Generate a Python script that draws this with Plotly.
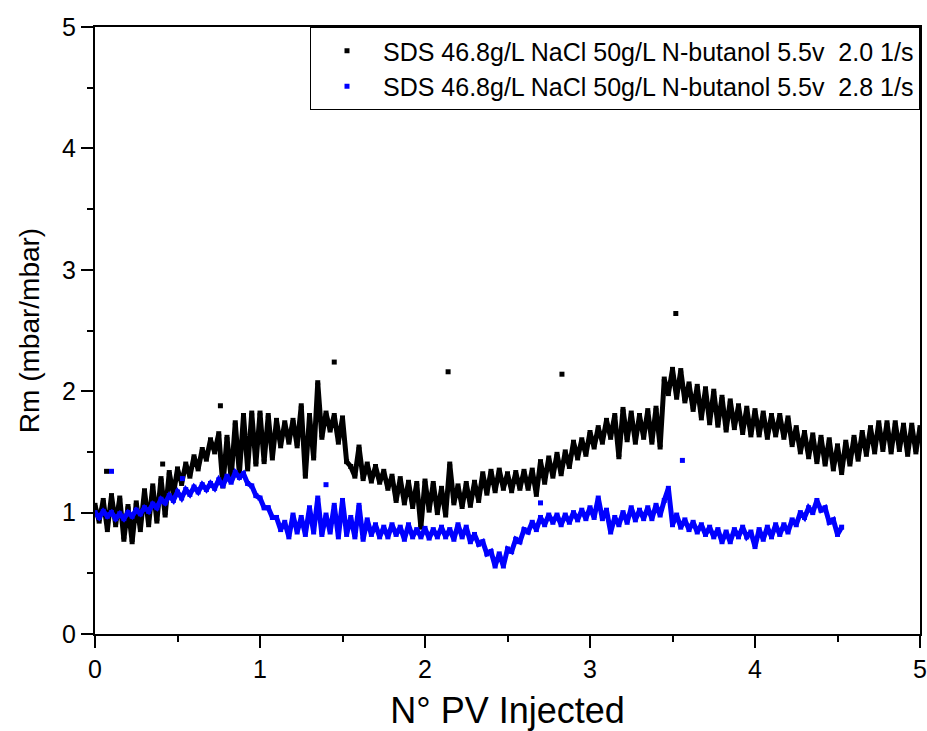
import plotly.graph_objects as go

# sampled at every 0.025 PV injected
black_x = [
    0.000, 0.025, 0.050, 0.075, 0.100, 0.125, 0.150, 0.175, 0.200, 0.225,
    0.250, 0.275, 0.300, 0.325, 0.350, 0.375, 0.400, 0.425, 0.450, 0.475,
    0.500, 0.525, 0.550, 0.575, 0.600, 0.625, 0.650, 0.675, 0.700, 0.725,
    0.750, 0.775, 0.800, 0.825, 0.850, 0.875, 0.900, 0.925, 0.950, 0.975,
    1.000, 1.025, 1.050, 1.075, 1.100, 1.125, 1.150, 1.175, 1.200, 1.225,
    1.250, 1.275, 1.300, 1.325, 1.350, 1.375, 1.400, 1.425, 1.450, 1.475,
    1.500, 1.525, 1.550, 1.575, 1.600, 1.625, 1.650, 1.675, 1.700, 1.725,
    1.750, 1.775, 1.800, 1.825, 1.850, 1.875, 1.900, 1.925, 1.950, 1.975,
    2.000, 2.025, 2.050, 2.075, 2.100, 2.125, 2.150, 2.175, 2.200, 2.225,
    2.250, 2.275, 2.300, 2.325, 2.350, 2.375, 2.400, 2.425, 2.450, 2.475,
    2.500, 2.525, 2.550, 2.575, 2.600, 2.625, 2.650, 2.675, 2.700, 2.725,
    2.750, 2.775, 2.800, 2.825, 2.850, 2.875, 2.900, 2.925, 2.950, 2.975,
    3.000, 3.025, 3.050, 3.075, 3.100, 3.125, 3.150, 3.175, 3.200, 3.225,
    3.250, 3.275, 3.300, 3.325, 3.350, 3.375, 3.400, 3.425, 3.450, 3.475,
    3.500, 3.525, 3.550, 3.575, 3.600, 3.625, 3.650, 3.675, 3.700, 3.725,
    3.750, 3.775, 3.800, 3.825, 3.850, 3.875, 3.900, 3.925, 3.950, 3.975,
    4.000, 4.025, 4.050, 4.075, 4.100, 4.125, 4.150, 4.175, 4.200, 4.225,
    4.250, 4.275, 4.300, 4.325, 4.350, 4.375, 4.400, 4.425, 4.450, 4.475,
    4.500, 4.525, 4.550, 4.575, 4.600, 4.625, 4.650, 4.675, 4.700, 4.725,
    4.750, 4.775, 4.800, 4.825, 4.850, 4.875, 4.900, 4.925, 4.950, 4.975,
    5.000,
]
black_rm = [
    1.06, 0.93, 1.10, 0.86, 1.14, 0.90, 1.12, 0.78, 1.05, 0.76,
    1.08, 0.86, 1.18, 0.90, 1.22, 0.93, 1.28, 0.98, 1.33, 1.15,
    1.36, 1.24, 1.40, 1.30, 1.46, 1.36, 1.52, 1.44, 1.60, 1.50,
    1.65, 1.22, 1.62, 1.28, 1.74, 1.32, 1.80, 1.36, 1.82, 1.40,
    1.82, 1.42, 1.80, 1.45, 1.76, 1.55, 1.74, 1.58, 1.76, 1.55,
    1.88, 1.30, 1.80, 1.45, 2.07, 1.62, 1.82, 1.68, 1.80, 1.58,
    1.78, 1.42, 1.38, 1.30, 1.54, 1.28, 1.40, 1.26, 1.38, 1.25,
    1.34, 1.20, 1.30, 1.10, 1.28, 1.08, 1.25, 1.05, 1.24, 0.88,
    1.26, 1.02, 1.24, 1.00, 1.20, 0.98, 1.40, 1.08, 1.22, 1.05,
    1.24, 1.06, 1.25, 1.10, 1.32, 1.16, 1.34, 1.18, 1.35, 1.20,
    1.32, 1.18, 1.33, 1.20, 1.34, 1.20, 1.35, 1.15, 1.42, 1.25,
    1.45, 1.30, 1.48, 1.32, 1.50, 1.38, 1.58, 1.45, 1.60, 1.48,
    1.66, 1.54, 1.70, 1.58, 1.76, 1.62, 1.80, 1.46, 1.85, 1.60,
    1.82, 1.58, 1.80, 1.62, 1.84, 1.58, 1.86, 1.54, 2.10, 1.98,
    2.18, 1.95, 2.17, 1.92, 2.06, 1.85, 2.04, 1.78, 2.02, 1.74,
    2.00, 1.72, 1.95, 1.68, 1.92, 1.70, 1.88, 1.66, 1.86, 1.64,
    1.84, 1.64, 1.82, 1.62, 1.80, 1.64, 1.80, 1.62, 1.78, 1.56,
    1.70, 1.50, 1.66, 1.46, 1.64, 1.42, 1.62, 1.40, 1.60, 1.36,
    1.55, 1.33, 1.58, 1.40, 1.62, 1.44, 1.66, 1.48, 1.70, 1.50,
    1.74, 1.52, 1.74, 1.50, 1.74, 1.52, 1.72, 1.48, 1.72, 1.50,
    1.70,
]
black_out_x = [0.07, 0.41, 0.76, 1.45, 2.14, 2.83, 3.52]
black_out_rm = [1.34, 1.40, 1.88, 2.24, 2.16, 2.14, 2.64]

blue_x = [
    0.000, 0.025, 0.050, 0.075, 0.100, 0.125, 0.150, 0.175, 0.200, 0.225,
    0.250, 0.275, 0.300, 0.325, 0.350, 0.375, 0.400, 0.425, 0.450, 0.475,
    0.500, 0.525, 0.550, 0.575, 0.600, 0.625, 0.650, 0.675, 0.700, 0.725,
    0.750, 0.775, 0.800, 0.825, 0.850, 0.875, 0.900, 0.925, 0.950, 0.975,
    1.000, 1.025, 1.050, 1.075, 1.100, 1.125, 1.150, 1.175, 1.200, 1.225,
    1.250, 1.275, 1.300, 1.325, 1.350, 1.375, 1.400, 1.425, 1.450, 1.475,
    1.500, 1.525, 1.550, 1.575, 1.600, 1.625, 1.650, 1.675, 1.700, 1.725,
    1.750, 1.775, 1.800, 1.825, 1.850, 1.875, 1.900, 1.925, 1.950, 1.975,
    2.000, 2.025, 2.050, 2.075, 2.100, 2.125, 2.150, 2.175, 2.200, 2.225,
    2.250, 2.275, 2.300, 2.325, 2.350, 2.375, 2.400, 2.425, 2.450, 2.475,
    2.500, 2.525, 2.550, 2.575, 2.600, 2.625, 2.650, 2.675, 2.700, 2.725,
    2.750, 2.775, 2.800, 2.825, 2.850, 2.875, 2.900, 2.925, 2.950, 2.975,
    3.000, 3.025, 3.050, 3.075, 3.100, 3.125, 3.150, 3.175, 3.200, 3.225,
    3.250, 3.275, 3.300, 3.325, 3.350, 3.375, 3.400, 3.425, 3.450, 3.475,
    3.500, 3.525, 3.550, 3.575, 3.600, 3.625, 3.650, 3.675, 3.700, 3.725,
    3.750, 3.775, 3.800, 3.825, 3.850, 3.875, 3.900, 3.925, 3.950, 3.975,
    4.000, 4.025, 4.050, 4.075, 4.100, 4.125, 4.150, 4.175, 4.200, 4.225,
    4.250, 4.275, 4.300, 4.325, 4.350, 4.375, 4.400, 4.425, 4.450, 4.475,
    4.500, 4.525,
]
blue_rm = [
    1.00, 0.96, 1.01, 0.97, 1.00, 0.95, 0.99, 0.95, 1.00, 0.97,
    1.02, 0.99, 1.04, 1.01, 1.07, 1.04, 1.11, 1.08, 1.14, 1.10,
    1.17, 1.12, 1.19, 1.15, 1.21, 1.17, 1.23, 1.19, 1.24, 1.20,
    1.27, 1.22, 1.30, 1.25, 1.33, 1.29, 1.32, 1.24, 1.22, 1.14,
    1.12, 1.04, 1.04, 0.96, 0.96, 0.86, 0.92, 0.80, 0.98, 0.84,
    0.96, 0.82, 1.04, 0.84, 1.12, 0.82, 0.98, 0.84, 1.06, 0.80,
    1.10, 0.82, 0.96, 0.80, 1.06, 0.78, 0.94, 0.82, 0.90, 0.80,
    0.88, 0.80, 0.90, 0.82, 0.88, 0.78, 0.90, 0.80, 0.86, 0.80,
    0.87, 0.79, 0.86, 0.80, 0.88, 0.80, 0.86, 0.78, 0.90, 0.80,
    0.88, 0.76, 0.82, 0.74, 0.76, 0.66, 0.68, 0.56, 0.66, 0.56,
    0.70, 0.68, 0.78, 0.76, 0.86, 0.84, 0.92, 0.86, 0.96, 0.90,
    0.98, 0.92, 0.98, 0.90, 0.98, 0.92, 1.00, 0.94, 1.02, 0.95,
    1.04, 0.96, 1.12, 0.95, 1.02, 0.84, 0.96, 0.90, 1.00, 0.92,
    1.04, 0.94, 1.02, 0.95, 1.04, 0.95, 1.06, 0.98, 1.10, 1.20,
    0.90, 0.98, 0.88, 0.94, 0.86, 0.92, 0.84, 0.90, 0.82, 0.88,
    0.80, 0.86, 0.76, 0.84, 0.76, 0.86, 0.80, 0.88, 0.80, 0.84,
    0.72, 0.86, 0.78, 0.88, 0.80, 0.90, 0.82, 0.90, 0.84, 0.94,
    0.90, 1.00, 0.96, 1.04, 1.00, 1.10, 1.02, 1.04, 0.92, 0.94,
    0.82, 0.88,
]
blue_out_x = [0.10, 0.53, 1.40, 2.70, 3.56]
blue_out_rm = [1.34, 1.28, 1.23, 1.08, 1.43]

names = [
    "SDS 46.8g/L NaCl 50g/L N-butanol 5.5v\u00a0 2.0 1/s",
    "SDS 46.8g/L NaCl 50g/L N-butanol 5.5v\u00a0 2.8 1/s",
]
colors = ["#000000", "#0000ff"]
FONT = 'Liberation Sans, Arial'

fig = go.Figure()
series = [(black_x, black_rm, black_out_x, black_out_rm),
          (blue_x, blue_rm, blue_out_x, blue_out_rm)]
for (sx, sy, ox, oy), name, c in zip(series, names, colors):
    fig.add_trace(go.Scatter(
        x=sx, y=sy, mode='lines+markers', showlegend=False,
        line=dict(color=c, width=5),
        marker=dict(symbol='square', size=5, color=c)))
    fig.add_trace(go.Scatter(
        x=ox, y=oy, mode='markers', showlegend=False,
        marker=dict(symbol='square', size=5, color=c)))
    fig.add_trace(go.Scatter(
        x=[None], y=[None], mode='markers', name=name,
        marker=dict(symbol='square', size=5, color=c)))

axis_common = dict(
    showline=True, linecolor='black', linewidth=2, mirror=True,
    showgrid=False, zeroline=False, automargin=False,
    ticks='outside', ticklen=12, tickwidth=2, tickcolor='black',
    tickfont=dict(family=FONT, size=25, color='black'),
    minor=dict(ticks='outside', ticklen=6, tickwidth=2, tickcolor='black', dtick=0.5),
    dtick=1,
)
fig.update_xaxes(range=[0, 5], **axis_common,
                 title=dict(text='N° PV Injected', standoff=24,
                            font=dict(family=FONT, size=36, color='black')))
fig.update_yaxes(range=[0, 5], **axis_common,
                 title=dict(text='Rm (mbar/mbar)', standoff=14,
                            font=dict(family=FONT, size=28, color='black')))

fig.update_layout(
    width=927, height=731,
    margin=dict(l=95, r=7, t=27, b=97),
    plot_bgcolor='white', paper_bgcolor='white',
    legend=dict(x=1, y=1, xanchor='right', yanchor='top',
                bgcolor='white', bordercolor='black', borderwidth=1,
                font=dict(family=FONT, size=25, color='black'),
                itemwidth=62, tracegroupgap=0),
)

# the page body has a default margin; drop it so the figure fills the window
fig.write_html("out.html", config={'displayModeBar': False},
               post_script="document.body.style.margin='0';")
